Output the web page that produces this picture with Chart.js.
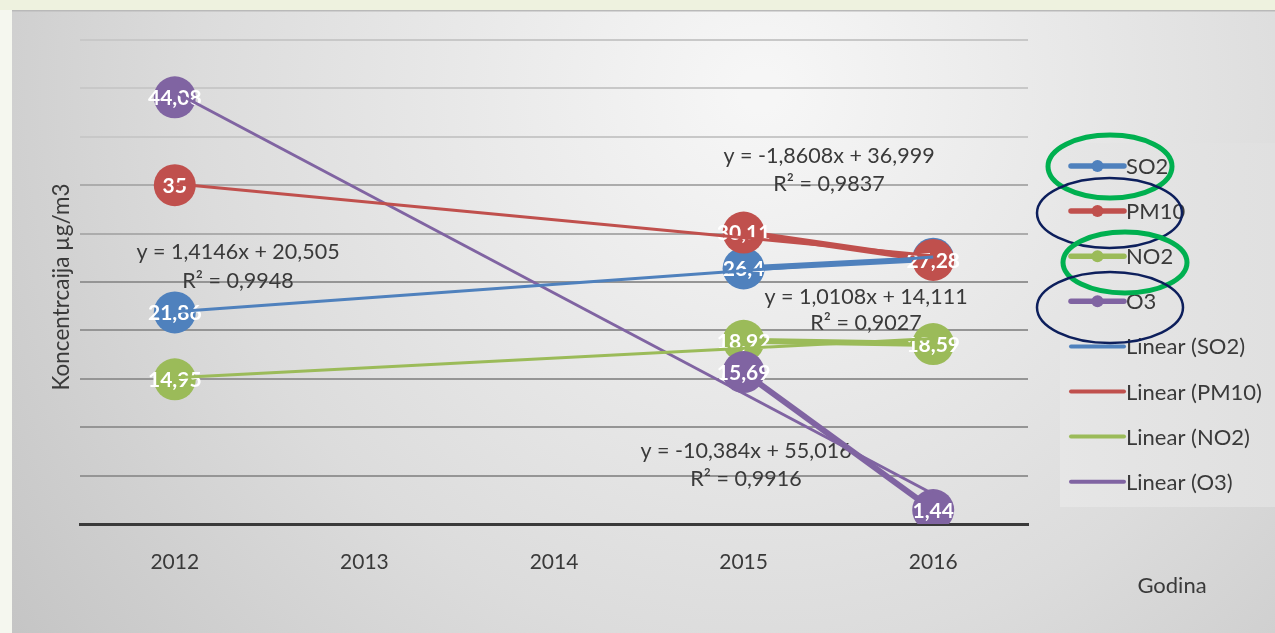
<!DOCTYPE html>
<html><head><meta charset="utf-8">
<script src="https://cdn.jsdelivr.net/npm/chart.js@4"></script>
<style>html,body{margin:0;padding:0;background:#eef2df;overflow:hidden}#wrap{width:1275px;height:633px;position:relative}</style>
</head><body><div id="wrap"><canvas id="c" width="1275" height="633"></canvas></div>
<script>
const years = ['2012', '2013', '2014', '2015', '2016'];
const so2 = [21.86, null, null, 26.4, 27.4];
const pm10 = [35, null, null, 30.11, 27.28];
const no2 = [14.95, null, null, 18.92, 18.59];
const o3 = [44.08, null, null, 15.69, 1.44];
// linear trend lines (values at 2012 and 2016 read from the fitted equations)
const so2Trend = [21.92, null, null, null, 27.58];
const pm10Trend = [35.14, null, null, null, 27.70];
const no2Trend = [15.12, null, null, null, 19.17];
const o3Trend = [44.63, null, null, null, 3.10];
const seriesNames = ['SO2', 'PM10', 'NO2', 'O3'];
const trendNames = ['Linear (SO2)', 'Linear (PM10)', 'Linear (NO2)', 'Linear (O3)'];
const trendEq = ['y = 1,4146x + 20,505', 'y = -1,8608x + 36,999', 'y = 1,0108x + 14,111', 'y = -10,384x + 55,016'];
const trendR2 = ['R² = 0,9948', 'R² = 0,9837', 'R² = 0,9027', 'R² = 0,9916'];
const yAxisTitle = 'Koncentrcaija µg/m3';
const xAxisTitle = 'Godina';

const colors = ['#4F81BD', '#C0504D', '#9BBB59', '#8064A2'];
const eqPos = [[238, 252, 281], [829, 156, 184], [866, 297, 323], [746, 451, 479]];
const FONT = 'Lato, "Open Sans", sans-serif';
const TXT = '#3a3a3a';

const seriesData = [so2, pm10, no2, o3];
const trendData = [so2Trend, pm10Trend, no2Trend, o3Trend];
const datasets = [];
seriesData.forEach((d, i) => datasets.push({
  label: seriesNames[i], data: d, isTrend: false, order: 4 - i,
  borderColor: colors[i], backgroundColor: colors[i], borderWidth: 6,
  pointRadius: 21, pointBorderWidth: 0, pointBackgroundColor: colors[i], spanGaps: false
}));
trendData.forEach((d, i) => datasets.push({
  label: trendNames[i], data: d, isTrend: true, order: 0,
  borderColor: colors[i], borderWidth: 3, pointRadius: 0, spanGaps: true
}));

const bgPlugin = {
  id: 'bg',
  beforeDraw(chart) {
    const ctx = chart.ctx;
    ctx.save();
    ctx.fillStyle = '#eef2df';
    ctx.fillRect(0, 0, 1275, 633);
    ctx.fillStyle = '#f5f7ef';
    ctx.fillRect(0, 10, 12, 623);
    const g = ctx.createRadialGradient(760, 90, 20, 760, 90, 1000);
    g.addColorStop(0, '#f6f6f6');
    g.addColorStop(0.55, '#dcdcdc');
    g.addColorStop(1, '#c0c0c0');
    ctx.fillStyle = g;
    ctx.fillRect(12, 10, 1263, 623);
    ctx.fillStyle = '#b9b9b9';
    ctx.fillRect(12, 10, 1263, 1.5);
    ctx.restore();
  },
  beforeDatasetsDraw(chart) {
    const ctx = chart.ctx;
    ctx.save();
    ctx.fillStyle = TXT;
    ctx.font = '21.5px ' + FONT;
    ctx.textAlign = 'center';
    ctx.textBaseline = 'middle';
    eqPos.forEach((p, i) => {
      ctx.fillText(trendEq[i], p[0], p[1]);
      ctx.fillText(trendR2[i], p[0], p[2]);
    });
    ctx.restore();
  },
  afterDatasetDraw(chart, args) {
    const ds = chart.data.datasets[args.index];
    if (ds.isTrend) return;
    const ctx = chart.ctx;
    ctx.save();
    ctx.fillStyle = '#ffffff';
    ctx.font = 'bold 21px ' + FONT;
    ctx.textAlign = 'center';
    ctx.textBaseline = 'middle';
    args.meta.data.forEach((pt, j) => {
      const v = ds.data[j];
      if (v == null) return;
      ctx.fillText(String(v).replace('.', ','), pt.x, pt.y + 1);
    });
    ctx.restore();
  },
  afterDraw(chart) {
    const ctx = chart.ctx;
    ctx.save();
    // axis titles
    ctx.fillStyle = TXT;
    ctx.font = '22px ' + FONT;
    ctx.textAlign = 'center';
    ctx.textBaseline = 'middle';
    ctx.fillText(xAxisTitle, 1172, 586);
    ctx.save();
    ctx.translate(62, 287);
    ctx.rotate(-Math.PI / 2);
    ctx.font = '22.5px ' + FONT;
    ctx.fillText(yAxisTitle, 0, 0);
    ctx.restore();
    // legend
    const lg = ctx.createLinearGradient(1060, 0, 1275, 0);
    lg.addColorStop(0, '#e6e6e6');
    lg.addColorStop(1, '#e0e0e0');
    ctx.fillStyle = lg;
    ctx.fillRect(1060, 143, 215, 364);
    const ds = chart.data.datasets;
    ctx.font = '22px ' + FONT;
    ctx.textAlign = 'left';
    for (let k = 0; k < ds.length; k++) {
      const y = 166 + k * 45.1;
      ctx.strokeStyle = ds[k].borderColor;
      ctx.lineWidth = ds[k].isTrend ? 4 : 5.5;
      ctx.lineCap = 'round';
      ctx.beginPath();
      ctx.moveTo(1071, y);
      ctx.lineTo(1124, y);
      ctx.stroke();
      if (!ds[k].isTrend) {
        ctx.fillStyle = ds[k].borderColor;
        ctx.beginPath();
        ctx.arc(1097.5, y, 6, 0, Math.PI * 2);
        ctx.fill();
      }
      ctx.fillStyle = TXT;
      ctx.fillText(ds[k].label, 1126, y + 1);
    }
    // hand-drawn highlight ellipses
    const ell = [[1110, 166.5, 62, 31.5, '#00B050', 5], [1109.5, 213, 72.5, 35, '#0D1F5C', 2.5],
                 [1125, 262.5, 62, 30.5, '#00B050', 5], [1110, 307.5, 73, 35.5, '#0D1F5C', 2.5]];
    ell.forEach(e => {
      ctx.strokeStyle = e[4];
      ctx.lineWidth = e[5];
      ctx.beginPath();
      ctx.ellipse(e[0], e[1], e[2], e[3], 0, 0, Math.PI * 2);
      ctx.stroke();
    });
    ctx.restore();
  }
};

new Chart(document.getElementById('c'), {
  type: 'line',
  data: { labels: years, datasets: datasets },
  plugins: [bgPlugin],
  options: {
    responsive: false, animation: false, devicePixelRatio: 1,
    layout: { padding: { left: 0, right: 247, top: 40, bottom: 0 } },
    plugins: { legend: { display: false }, tooltip: { enabled: false } },
    elements: { line: { tension: 0 } },
    scales: {
      x: {
        offset: true,
        grid: { display: false },
        border: { display: true, color: '#3a3a3a', width: 3 },
        ticks: { color: TXT, font: { family: FONT, size: 21 }, padding: 18 },
        afterFit(s) { s.height = 109; }
      },
      y: {
        min: 0, max: 50,
        ticks: { display: false, stepSize: 5 },
        border: { display: false },
        grid: {
          drawTicks: false, lineWidth: 2,
          color: c => c.tick.value === 0 ? 'rgba(0,0,0,0)' : (c.tick.value >= 40 ? '#c8c8c8' : (c.tick.value >= 30 ? '#acacac' : '#959595'))
        },
        afterFit(s) { s.width = 80; }
      }
    }
  }
});
</script>
</body></html>
